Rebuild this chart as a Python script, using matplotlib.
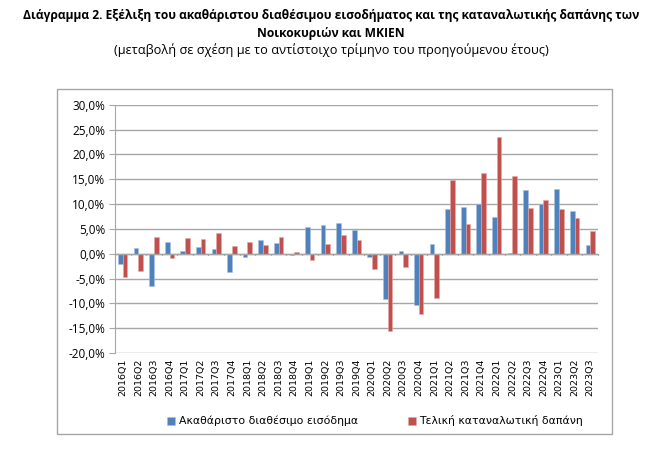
import matplotlib
matplotlib.use("Agg")
import matplotlib.pyplot as plt
import numpy as np
from matplotlib.ticker import FuncFormatter
from matplotlib.patches import Rectangle

quarters = [f"{y}Q{q}" for y in range(2016, 2024) for q in range(1, 5)][:31]

income = [-2.1, 1.2, -6.6, 2.3, 0.6, 1.3, 1.0, -3.6,
          -0.6, 2.7, 2.1, -0.3, 5.3, 5.7, 6.2, 4.8,
          -0.7, -9.2, 0.6, -10.3, 2.0, 8.9, 9.4, 10.0,
          7.3, 0.05, 12.9, 10.0, 13.1, 8.5, 1.7]
consumption = [-4.6, -3.4, 3.4, -0.8, 3.2, 3.0, 4.1, 1.5,
               2.35, 1.7, 3.3, 0.3, -1.2, 2.0, 3.8, 2.7,
               -3.0, -15.6, -2.6, -12.1, -9.0, 14.9, 5.9, 16.2,
               23.5, 15.6, 9.1, 10.9, 9.0, 7.2, 4.6]

series_names = ["Ακαθάριστο διαθέσιμο εισόδημα", "Τελική καταναλωτική δαπάνη"]
title1 = "Διάγραμμα 2. Εξέλιξη του ακαθάριστου διαθέσιμου εισοδήματος και της καταναλωτικής δαπάνης των"
title2 = "Νοικοκυριών και ΜΚΙΕΝ"
subtitle = "(μεταβολή σε σχέση με το αντίστοιχο τρίμηνο του προηγούμενου έτους)"

blue = "#4F81BD"
red = "#C0504D"

fig = plt.figure(figsize=(6.58, 4.53), dpi=100)
fig.patch.set_facecolor("white")

# outer chart frame
fig.add_artist(Rectangle((57/658, 1-434/453), (612-57)/658, (434-89)/453,
                         transform=fig.transFigure, fill=False,
                         edgecolor="#A6A6A6", linewidth=1.0))

ax = fig.add_axes([115/658, 1-353/453, (598-115)/658, (353-104.7)/453])
x = np.arange(len(quarters))
w = 0.3
ax.bar(x - w/2, income, w, color=blue, edgecolor="#A9C1E0", linewidth=0.4, label=series_names[0], zorder=3)
ax.bar(x + w/2, consumption, w, color=red, edgecolor="#E3A9A8", linewidth=0.4, label=series_names[1], zorder=3)

ax.set_xlim(-0.5, len(quarters) - 0.5)
ax.set_ylim(-20, 30)
ax.set_yticks(np.arange(-20, 31, 5))
ax.yaxis.set_major_formatter(FuncFormatter(lambda v, p: f"{v:.1f}%".replace(".", ",")))
ax.grid(axis="y", color="#A6A6A6", linewidth=1.0, zorder=0)
for s in ["top", "right", "bottom"]:
    ax.spines[s].set_visible(False)
ax.spines["left"].set_color("#A6A6A6")
ax.tick_params(axis="y", length=4, color="#A6A6A6", labelsize=8.5, pad=3)
for lbl in ax.get_yticklabels():
    lbl.set_family("Open Sans")

ax.axhline(0, color="#A6A6A6", linewidth=1.0, zorder=4)
# category boundary ticks on the zero line
for b in np.arange(-0.5, len(quarters), 1.0):
    ax.plot([b, b], [0, -0.35], color="#A6A6A6", linewidth=0.8, zorder=4, clip_on=False)

ax.set_xticks(x)
ax.set_xticklabels(quarters, rotation=90, fontsize=6.8, family="DejaVu Sans")
ax.tick_params(axis="x", length=0, pad=4)

fig.text(331/658, 1-16/453, title1, ha="center", va="center", fontsize=8.65,
         fontweight="bold", family="Open Sans")
fig.text(331/658, 1-33/453, title2, ha="center", va="center", fontsize=8.65,
         fontweight="bold", family="Open Sans")
fig.text(331/658, 1-50/453, subtitle, ha="center", va="center", fontsize=9.2,
         family="Open Sans")

leg = fig.legend(loc="center", bbox_to_anchor=(375/658, 1-421/453), ncol=2,
                 frameon=False, handlelength=0.75, handleheight=0.75,
                 handletextpad=0.3, columnspacing=4.6,
                 prop={"family": "DejaVu Sans", "size": 7.8})

fig.savefig("out.png", dpi=100, facecolor="white")
